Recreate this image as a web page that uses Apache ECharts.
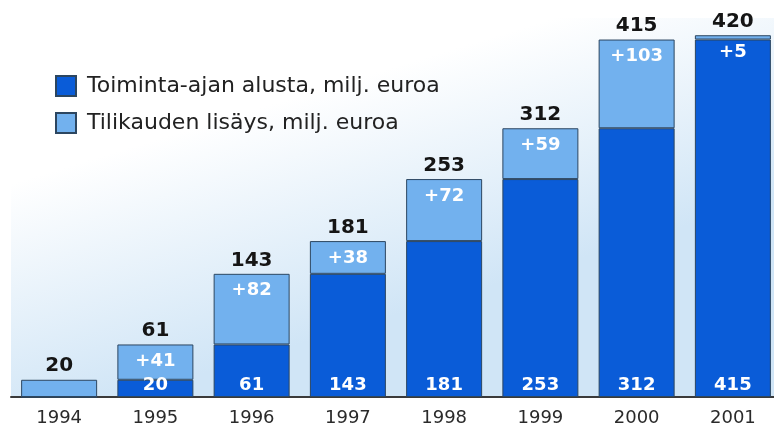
<!DOCTYPE html>
<html><head><meta charset="utf-8">
<script src="https://cdn.jsdelivr.net/npm/echarts@6/dist/echarts.min.js"></script>
<style>html,body{margin:0;padding:0;background:#fff}#c{width:774px;height:426px}</style>
</head><body><div id="c"></div>
<script>
const years = ['1994', '1995', '1996', '1997', '1998', '1999', '2000', '2001'];
const baseValues = [0, 20, 61, 143, 181, 253, 312, 415];
const addedValues = [20, 41, 82, 38, 72, 59, 103, 5];
const totalValues = [20, 61, 143, 181, 253, 312, 415, 420];
const seriesNames = ['Toiminta-ajan alusta, milj. euroa', 'Tilikauden lisäys, milj. euroa'];

const FONT = 'DejaVu Sans';
const chart = echarts.init(document.getElementById('c'), null, {renderer: 'canvas'});
const barBorder = {borderColor: '#2c4660', borderWidth: 1};

chart.setOption({
  backgroundColor: '#ffffff',
  animation: false,
  textStyle: {fontFamily: FONT},
  legend: {
    orient: 'vertical',
    left: 50,
    top: 70,
    itemWidth: 20,
    itemHeight: 20,
    itemGap: 15,
    icon: 'rect',
    data: seriesNames,
    textStyle: {fontFamily: FONT, fontSize: 22, color: '#222', padding: [0, 0, 0, 6]}
  },
  grid: {
    left: 11, width: 770, top: 18, bottom: 29,
    outerBoundsMode: 'none',
    show: true, borderWidth: 0,
    backgroundColor: {
      type: 'linear', x: 0, y: 0, x2: 0.15, y2: 1,
      colorStops: [
        {offset: 0, color: '#ffffff'},
        {offset: 0.4, color: '#ffffff'},
        {offset: 1, color: '#d0e5f6'}
      ]
    }
  },
  xAxis: {
    type: 'category',
    data: years,
    axisTick: {show: false},
    axisLine: {lineStyle: {color: '#3a3a3a', width: 2}},
    axisLabel: {fontFamily: FONT, fontSize: 18, color: '#2a2a2a', margin: 12}
  },
  yAxis: {
    type: 'value', min: 0, max: 440, show: false,
    splitLine: {show: false}
  },
  series: [
    {
      name: seriesNames[0], type: 'bar', stack: 'total', barWidth: 76,
      data: baseValues,
      itemStyle: Object.assign({color: '#0a5cd8'}, barBorder),
      label: {
        show: true, position: 'insideBottom', distance: 3,
        color: '#ffffff', fontFamily: FONT, fontWeight: 'bold', fontSize: 18,
        formatter: p => p.value > 0 ? String(p.value) : ''
      }
    },
    {
      name: seriesNames[1], type: 'bar', stack: 'total', barWidth: 76,
      data: addedValues,
      itemStyle: Object.assign({color: '#72b1ee'}, barBorder),
      label: {
        show: true, position: 'insideTop', distance: 8,
        color: '#ffffff', fontFamily: FONT, fontWeight: 'bold', fontSize: 18,
        formatter: p => baseValues[p.dataIndex] > 0 ? '+' + p.value : ''
      }
    },
    {
      name: 'totals', type: 'line', data: totalValues,
      symbol: 'circle', symbolSize: 1, showSymbol: true, showAllSymbol: true, silent: true, z: 10,
      itemStyle: {color: 'rgba(0,0,0,0)'},
      lineStyle: {width: 0, color: 'rgba(0,0,0,0)'},
      label: {
        show: true, position: 'top', distance: 3,
        color: '#151515', fontFamily: FONT, fontWeight: 'bold', fontSize: 20
      }
    }
  ]
});
</script>
</body></html>
